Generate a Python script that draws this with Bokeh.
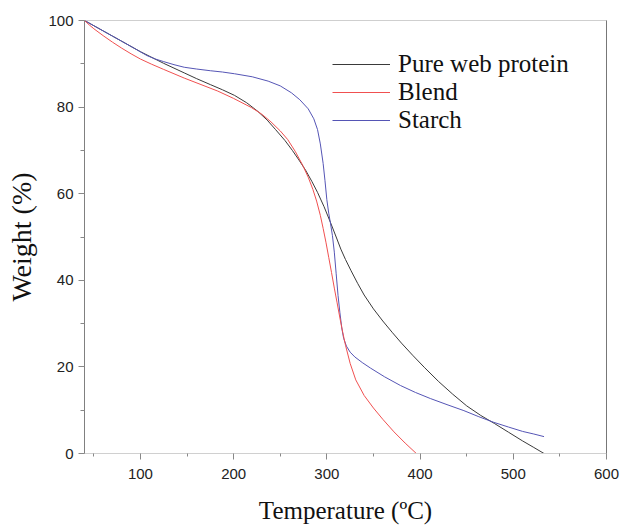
from bokeh.plotting import figure
from bokeh.models import Range1d, FixedTicker, LinearAxis, Legend, LegendItem
from bokeh.embed import file_html
from bokeh.resources import INLINE

# ---- data ----
temp_protein = [40, 50, 60, 70, 80, 90, 100, 112, 125, 136, 147, 160, 175, 188, 201, 214, 226, 236, 245,
                255, 263, 270, 277, 284, 290, 297, 304, 310, 315, 320, 326, 333, 340, 350, 360, 370, 380,
                392, 405, 420, 435, 450, 465, 480, 495, 510, 522, 533]
weight_protein = [100, 98.8, 97.6, 96.4, 95.2, 94.0, 92.8, 91.5, 90.1, 89.0, 87.9, 86.6, 85.2, 84.0, 82.7,
                  81.0, 79.0, 77.0, 74.8, 72.3, 70.0, 67.8, 65.5, 62.8, 60.3, 57.0, 53.3, 50.0, 47.2, 44.8,
                  42.2, 39.3, 36.6, 33.4, 30.6, 28.0, 25.5, 22.7, 19.8, 16.6, 13.7, 11.0, 8.8, 6.9, 4.9,
                  2.9, 1.4, 0]

temp_blend = [40, 45, 50, 60, 70, 80, 90, 100, 112, 125, 136, 147, 165, 183, 200, 219, 230, 240, 250, 258,
              266, 274, 280, 285, 289, 293, 296, 299, 302, 305, 308, 311, 314, 317, 320, 325, 331, 340, 350,
              360, 372, 384, 396, 533]
weight_blend = [100, 99.0, 98.1, 96.5, 95.0, 93.6, 92.3, 91.1, 89.9, 88.7, 87.7, 86.7, 85.2, 83.7, 82.0,
                79.9, 78.4, 76.6, 74.5, 72.5, 69.8, 66.6, 63.8, 61.0, 58.3, 55.0, 52.0, 48.8, 45.3, 41.8,
                38.2, 34.8, 31.3, 28.0, 25.0, 20.8, 17.0, 13.4, 10.5, 7.9, 5.0, 2.4, 0, 0]

temp_starch = [40, 50, 60, 70, 80, 94, 107, 116, 125, 136, 147, 160, 175, 188, 201, 220, 237, 250, 262,
               271, 280, 286, 290, 293, 296, 298, 300, 302, 304, 306, 308, 310, 312, 314, 316, 318, 321,
               325, 330, 338, 347, 362, 379, 395, 411, 430, 447, 463, 479, 495, 510, 522, 533]
weight_starch = [100, 98.8, 97.6, 96.4, 95.2, 93.5, 91.9, 91.1, 90.5, 89.8, 89.2, 88.8, 88.4, 88.1, 87.7,
                 87.0, 86.0, 84.9, 83.3, 81.7, 79.6, 77.3, 74.8, 71.5, 67.0, 63.0, 58.6, 55.5, 53.0, 50.3,
                 46.5, 41.5, 36.5, 32.5, 29.0, 26.6, 24.8, 23.4, 22.3, 21.0, 19.7, 17.7, 15.7, 14.1, 12.7,
                 11.2, 9.9, 8.5, 7.2, 6.1, 5.1, 4.5, 3.9]

series_names = ["Pure web protein", "Blend", "Starch"]
x_ticks = [100, 200, 300, 400, 500, 600]
x_minor = [50, 150, 250, 350, 450, 550]
y_ticks = [0, 20, 40, 60, 80, 100]
y_minor = [10, 30, 50, 70, 90]

p = figure(width=622, height=528,
           x_range=Range1d(40, 600), y_range=Range1d(0, 100),
           output_backend="svg", toolbar_location=None,
           min_border_left=84, min_border_top=20,
           min_border_right=16, min_border_bottom=75)
p.grid.visible = False
p.outline_line_color = "#cfcfcf"
p.outline_line_width = 1

r1 = p.line(temp_protein, weight_protein, line_color="#3a3a3a", line_width=1)
r3 = p.line(temp_starch, weight_starch, line_color="#5555b5", line_width=1)
r2 = p.line(temp_blend, weight_blend, line_color="#f05050", line_width=1)

tick_font = "Liberation Sans"
label_font = "Liberation Serif"

xa = p.xaxis[0]
xa.ticker = FixedTicker(ticks=x_ticks, minor_ticks=x_minor)
xa.axis_line_color = "#d0d0d0"
xa.major_tick_line_color = "#888888"
xa.minor_tick_line_color = "#888888"
xa.major_tick_out = 6
xa.major_tick_in = 0
xa.minor_tick_out = 3
xa.minor_tick_in = 0
xa.major_label_standoff = 9
xa.major_label_text_font = tick_font
xa.major_label_text_font_size = "15px"
xa.major_label_text_color = "#222222"
xa.axis_label = "Temperature (ºC)"
xa.axis_label_text_font = label_font
xa.axis_label_text_font_size = "25px"
xa.axis_label_text_font_style = "normal"
xa.axis_label_text_color = "#111111"
xa.axis_label_standoff = 15

ya = p.yaxis[0]
ya.ticker = FixedTicker(ticks=y_ticks, minor_ticks=y_minor)
ya.axis_line_color = "#808080"
ya.major_tick_line_color = "#888888"
ya.minor_tick_line_color = "#888888"
ya.major_tick_out = 6
ya.major_tick_in = 0
ya.minor_tick_out = 4
ya.minor_tick_in = 0
ya.major_label_standoff = 5
ya.major_label_text_font = tick_font
ya.major_label_text_font_size = "15px"
ya.major_label_text_color = "#222222"
ya.axis_label = "Weight (%)"
ya.axis_label_text_font = label_font
ya.axis_label_text_font_size = "28px"
ya.axis_label_text_font_style = "normal"
ya.axis_label_text_color = "#111111"
ya.axis_label_standoff = 8

right_axis = LinearAxis(ticker=FixedTicker(ticks=[]), axis_line_color="#777777",
                        major_tick_line_color=None, minor_tick_line_color=None,
                        major_label_text_font_size="0px")
p.add_layout(right_axis, "right")

legend = Legend(items=[LegendItem(label=series_names[0], renderers=[r1]),
                       LegendItem(label=series_names[1], renderers=[r2]),
                       LegendItem(label=series_names[2], renderers=[r3])],
                location=(248, 319), border_line_color=None,
                background_fill_alpha=0, padding=0, margin=0, spacing=-2,
                glyph_width=58, glyph_height=24, label_height=24, label_standoff=8,
                label_text_font=label_font, label_text_font_size="25px",
                label_text_color="#111111")
p.add_layout(legend)

open("out.html", "w").write(file_html(p, INLINE))
